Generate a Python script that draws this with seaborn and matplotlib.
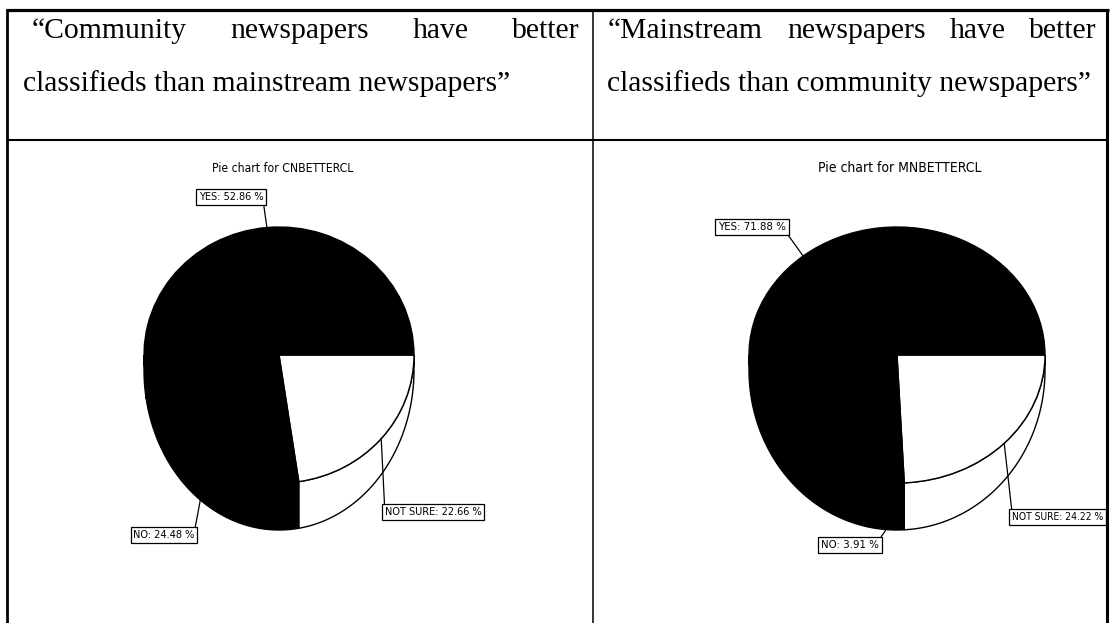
import numpy as np
import matplotlib
matplotlib.use("Agg")
import matplotlib.pyplot as plt
import seaborn as sns
from matplotlib import font_manager
from matplotlib.patches import Polygon

# ---------------- data ----------------
categories = ["NOT SURE", "NO", "YES"]
cn_values = [22.66, 24.48, 52.86]
mn_values = [24.22, 3.91, 71.88]
slice_colors = ["white", "black", "black"]
chart_titles = ["Pie chart for CNBETTERCL", "Pie chart for MNBETTERCL"]
header_line1 = [["\u201cCommunity", "newspapers", "have", "better"],
                ["\u201cMainstream", "newspapers", "have", "better"]]
header_line2 = ["classifieds than mainstream newspapers\u201d",
                "classifieds than community newspapers\u201d"]

# ---------------- setup ----------------
sns.set_style("white")
plt.rcParams["text.color"] = "black"
W, H = 1116, 623
fig = plt.figure(figsize=(W / 100, H / 100), dpi=100)
fig.patch.set_facecolor("white")

avail = {f.name for f in font_manager.fontManager.ttflist}
if "Liberation Sans Narrow" in avail:
    NARROW = dict(family=["Liberation Sans Narrow", "DejaVu Sans"])
else:
    NARROW = dict(family=["DejaVu Sans"], fontstretch="condensed")
SERIF = dict(family=["Liberation Serif", "DejaVu Serif"])
HFS = 21.3

# overlay axes in pixel coordinates (table, header text)
bg = fig.add_axes([0, 0, 1, 1])
bg.set_xlim(0, W)
bg.set_ylim(H, 0)
bg.axis("off")
bg.set_zorder(5)
bg.patch.set_alpha(0)

# table lines
lk = dict(color="black", solid_capstyle="butt")
bg.plot([6, 1109], [10, 10], lw=2.3, **lk)
bg.plot([7, 7], [9, H], lw=2.0, **lk)
bg.plot([1107, 1107], [9, H], lw=2.2, **lk)
bg.plot([593, 593], [10, H], lw=1.1, **lk)
bg.plot([7, 1107], [140, 140], lw=1.5, **lk)

# header text (justified first line)
renderer = fig.canvas.get_renderer()
def justify(words, x0, x1, y):
    texts = [bg.text(0, y, w, ha="left", va="baseline", fontsize=HFS, color="black", **SERIF)
             for w in words]
    widths = [t.get_window_extent(renderer).width for t in texts]
    gap = ((x1 - x0) - sum(widths)) / (len(words) - 1)
    x = x0
    for t, w in zip(texts, widths):
        t.set_x(x)
        x += w + gap

justify(header_line1[0], 32, 580, 38)
justify(header_line1[1], 608, 1097, 38)
bg.text(23, 91, header_line2[0], ha="left", va="baseline", fontsize=HFS, color="black", **SERIF)
bg.text(607, 91, header_line2[1], ha="left", va="baseline", fontsize=HFS, color="black", **SERIF)

# pie titles
bg.text(283, 168, chart_titles[0], ha="center", va="center", fontsize=8.7, color="black", **NARROW)
bg.text(900, 168, chart_titles[1], ha="center", va="center", fontsize=10, color="black", **NARROW)


def pie3d(values, cx, cy, rx, ry, label_pos, rel, ha_list, fs):
    ax = fig.add_axes([(cx - 1.5 * rx) / W, (H - (cy + 1.5 * ry)) / H, 3 * rx / W, 3 * ry / H])
    wedges, _ = ax.pie(values, colors=slice_colors, startangle=0, counterclock=False,
                       radius=1, center=(0, 0),
                       wedgeprops=dict(edgecolor="black", linewidth=1.0, zorder=3))
    ax.set_aspect("auto")
    ax.set_xlim(-1.5, 1.5)
    ax.set_ylim(-1.5, 1.5)
    ax.axis("off")
    d0 = 15.0 / ry
    k = 160.0 / ry
    fr = np.array(values) / np.sum(values)
    start = 0.0
    for i, f in enumerate(fr):
        end = start - 360 * f
        lo, hi = max(end, -180.0), min(start, 0.0)
        if hi > lo:
            th = np.radians(np.linspace(hi, lo, 80))
            top = np.column_stack([np.cos(th), np.sin(th)])
            bot = np.column_stack([np.cos(th), -d0 + k * np.sin(th)])[::-1]
            ax.add_patch(Polygon(np.vstack([top, bot]), closed=True,
                                 facecolor=slice_colors[i], edgecolor="black",
                                 linewidth=1.0, zorder=2))
        mid = np.radians((start + end) / 2)
        c, s = np.cos(mid), np.sin(mid)
        if s < 0 and abs(c) < 0.7:
            xy = (c, -d0 + k * s)
        else:
            xy = (c, s)
        lx, ly = label_pos[i]
        ax.annotate(f"{categories[i]}: {values[i]:.2f} %", xy=xy, xycoords="data",
                    xytext=(lx, H - ly), textcoords="figure pixels",
                    ha=ha_list[i], va="center", fontsize=fs[i], color="black",
                    annotation_clip=False,
                    bbox=dict(boxstyle="square,pad=0.25", fc="white", ec="black", lw=0.9),
                    arrowprops=dict(arrowstyle="-", color="black", lw=0.9,
                                    relpos=rel[i], shrinkA=0, shrinkB=0),
                    zorder=6, **NARROW)
        start = end
    return ax


pie3d(cn_values, 279, 355, 135, 128,
      label_pos=[(433, 512), (164, 535), (231, 197)],
      rel=[(0, 1), (1, 1), (1, 0)],
      ha_list=["center", "center", "center"], fs=[7.8, 7.8, 7.8])

pie3d(mn_values, 897, 355, 148, 128,
      label_pos=[(1012, 517), (850, 545), (752, 227)],
      rel=[(0, 1), (1, 1), (1, 0)],
      ha_list=["left", "center", "center"], fs=[7.4, 8.2, 8.2])

fig.savefig("out.png", dpi=100, facecolor="white")
